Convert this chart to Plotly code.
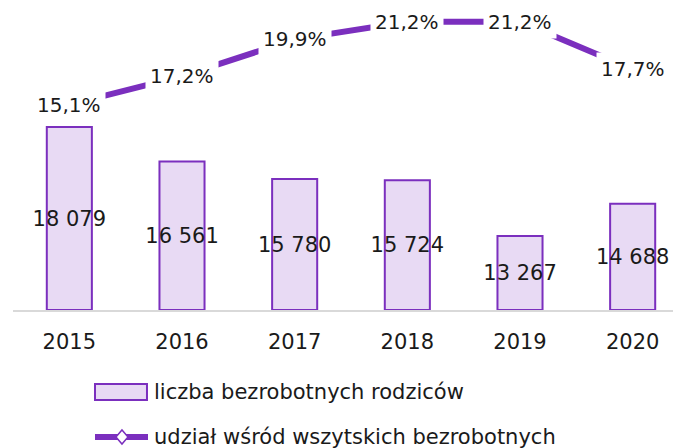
import plotly.graph_objects as go

# data
years = ["2015", "2016", "2017", "2018", "2019", "2020"]
parents = [18079, 16561, 15780, 15724, 13267, 14688]
share = [15.1, 17.2, 19.9, 21.2, 21.2, 17.7]

bar_name = "liczba bezrobotnych rodziców"
line_name = "udział wśród wszytskich bezrobotnych"

PURPLE = "#7B2FBE"
LAVENDER = "#E8DAF4"
FONT = "DejaVu Sans"
TXT = "#1a1a1a"

fig = go.Figure()

fig.add_trace(go.Bar(
    x=years, y=[v - 10000 for v in parents], base=10000,
    width=0.4,
    marker=dict(color=LAVENDER, line=dict(color=PURPLE, width=2)),
    text=[f"{v:,}".replace(",", " ") for v in parents],
    textposition="inside", insidetextanchor="middle",
    constraintext="none", textangle=0,
    textfont=dict(family=FONT, size=21, color=TXT),
    name=bar_name, showlegend=False,
))

fig.add_trace(go.Scatter(
    x=years, y=share, yaxis="y2",
    mode="lines",
    line=dict(color=PURPLE, width=6),
    name=line_name, showlegend=False,
))

# line labels with white boxes (hide the line behind them)
# category axis: annotations take the category index
for i, v in enumerate(share):
    fig.add_annotation(
        x=i, y=v, xref="x", yref="y2", showarrow=False,
        text=f"{v:.1f}%".replace(".", ","),
        font=dict(family=FONT, size=20, color=TXT),
        bgcolor="white", borderpad=4,
    )

# custom legend (page body has an 8px margin, positions compensate)
fig.add_shape(type="rect", xref="paper", yref="paper",
              x0=0.1213, x1=0.1982, y0=-0.2467, y1=-0.30,
              fillcolor=LAVENDER, line=dict(color=PURPLE, width=2))
fig.add_annotation(xref="paper", yref="paper", x=0.2056, y=-0.2733,
                   xanchor="left", yanchor="middle", showarrow=False,
                   text=bar_name, font=dict(family=FONT, size=21, color=TXT))
fig.add_shape(type="line", xref="paper", yref="paper",
              x0=0.1213, x1=0.1997, y0=-0.4233, y1=-0.4233,
              line=dict(color=PURPLE, width=6))
fig.add_shape(type="path", xref="paper", yref="paper",
              path="M 0.1523 -0.4233 L 0.1612 -0.4000 L 0.1701 -0.4233 L 0.1612 -0.4466 Z",
              fillcolor="white", line=dict(color=PURPLE, width=1.5))
fig.add_annotation(xref="paper", yref="paper", x=0.2056, y=-0.4233,
                   xanchor="left", yanchor="middle", showarrow=False,
                   text=line_name, font=dict(family=FONT, size=21, color=TXT))

fig.update_layout(
    width=681, height=448,
    margin=dict(l=5, r=0, t=2, b=146),
    plot_bgcolor="white", paper_bgcolor="white",
    showlegend=False,
    xaxis=dict(type="category", range=[-0.5, 5.5], showgrid=False, zeroline=False,
               showline=True, linecolor="#D9D9D9", linewidth=2,
               ticks="", ticklabelstandoff=12,
               tickfont=dict(family=FONT, size=21, color=TXT)),
    yaxis=dict(range=[10000, 23245], visible=False, showgrid=False),
    yaxis2=dict(range=[0, 22.06], overlaying="y", side="right",
                showgrid=False, zeroline=False, showline=False,
                showticklabels=False, ticks=""),
)

fig.write_html("out.html")
